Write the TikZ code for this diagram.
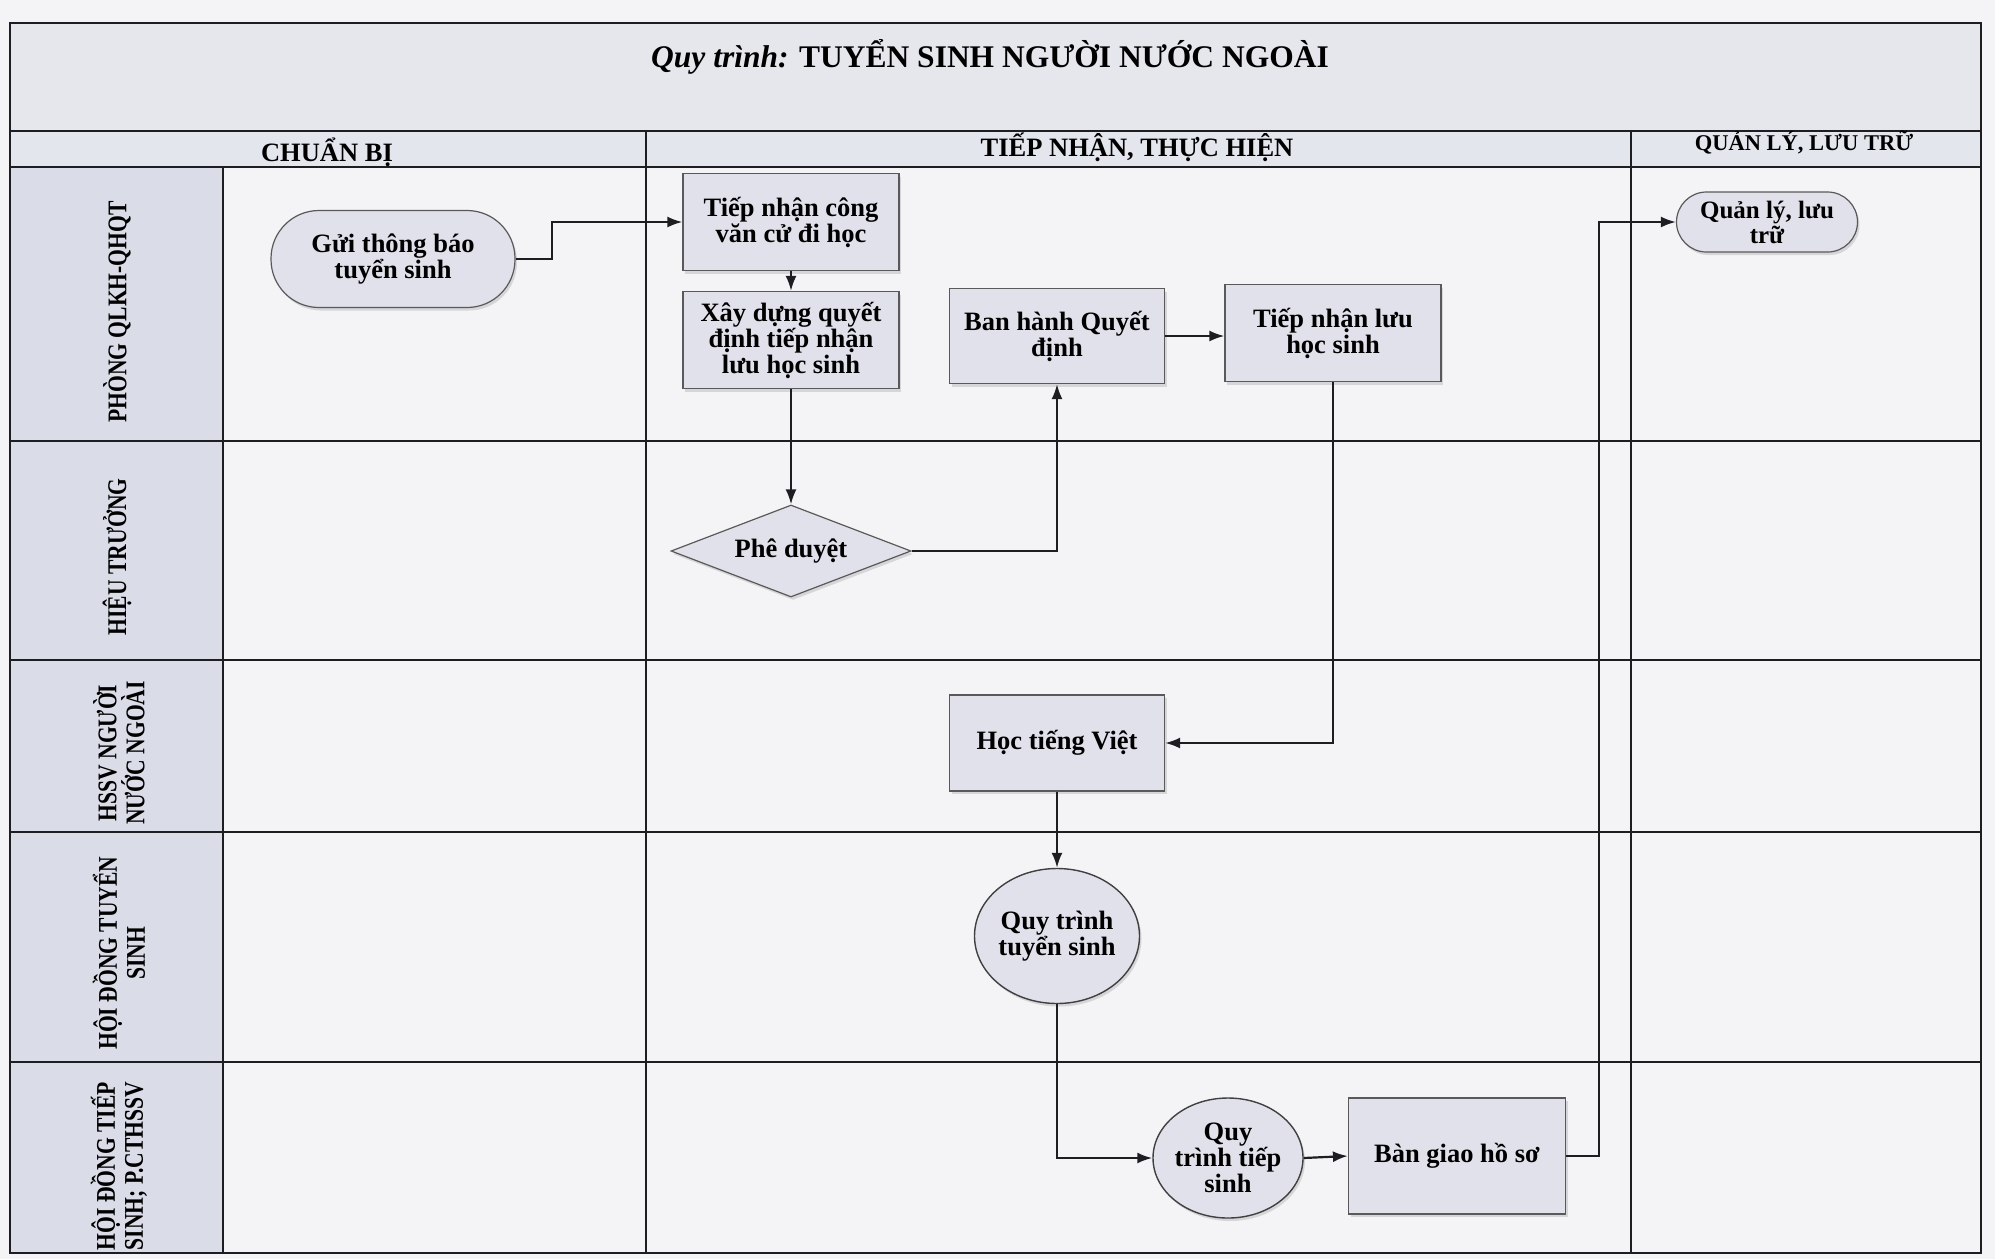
\documentclass[tikz,border=0pt]{standalone}
\usepackage{fontspec}
\setmainfont{Liberation Serif}
\newfontfamily\lanefont[FakeStretch=0.8]{Liberation Serif}
\usetikzlibrary{arrows.meta,shapes.geometric,shadows}
\definecolor{bgcol}{HTML}{F4F4F7}
\definecolor{titlefill}{HTML}{E5E7ED}
\definecolor{headfill}{HTML}{E4E6EE}
\definecolor{lanefill}{HTML}{DADCE7}
\definecolor{nodefill}{HTML}{E1E1EB}
\definecolor{linecol}{HTML}{1E1E22}
\begin{document}
\begin{tikzpicture}[x=1pt,y=-1pt,
  frame/.style={draw=linecol,line width=2pt},
  shad/.style={drop shadow={opacity=0.25,shadow xshift=2pt,shadow yshift=-3pt}},
  proc/.style={draw=black!65,line width=1.2pt,fill=nodefill,shad,minimum width=216pt,minimum height=97pt,inner sep=0pt,align=center,font=\bfseries\fontsize{26.5}{26}\selectfont},
  term/.style={proc,rounded corners=48pt,minimum width=244pt},
  decis/.style={diamond,draw=black!65,line width=1.2pt,fill=nodefill,shad,aspect=2.6,minimum width=240pt,minimum height=92pt,inner sep=0pt,align=center,font=\bfseries\fontsize{26.5}{26}\selectfont},
  circ/.style={ellipse,draw=black!75,line width=1.4pt,fill=nodefill,shad,inner sep=0pt},
  ntext/.style={align=center,font=\bfseries\fontsize{26.5}{26}\selectfont},
  head/.style={font=\bfseries\fontsize{26.5}{28}\selectfont},
  lane/.style={rotate=90,align=center,font=\lanefont\bfseries\fontsize{27}{28}\selectfont},
  conn/.style={draw=linecol,line width=2.2pt,-{Latex[length=15pt,width=11pt]}}]
\path[use as bounding box,fill=bgcol] (0,0) rectangle (1995,1259);
% bands
\fill[titlefill] (10,23) rectangle (1981,131);
\fill[headfill] (10,131) rectangle (1981,167);
\fill[lanefill] (10,167) rectangle (223,1253);
% grid
\draw[frame] (10,23) rectangle (1981,1253);
\draw[frame] (10,131) -- (1981,131);
\draw[frame] (10,167) -- (1981,167);
\draw[frame] (223,167) -- (223,1253);
\draw[frame] (646,131) -- (646,1253);
\draw[frame] (1631,131) -- (1631,1253);
\foreach \yy in {441,660,832,1062} \draw[frame] (10,\yy) -- (1981,\yy);
% title and headers
\node[font=\bfseries\fontsize{31.5}{33}\selectfont] (title) at (990,57) {\textit{Quy trình:} TUYỂN SINH NGƯỜI NƯỚC NGOÀI};
\node[head] (h1) at (327,152) {CHUẨN BỊ};
\node[head] (h2) at (1137,147) {TIẾP NHẬN, THỰC HIỆN};
\node[head,font=\bfseries\fontsize{22.5}{24}\selectfont] (h3) at (1804,142) {QUẢN LÝ, LƯU TRỮ};
% lane labels
\node[lane] (l1) at (117,312) {PHÒNG QLKH-QHQT};
\node[lane] (l2) at (117,557) {HIỆU TRƯỞNG};
\node[lane] (l3) at (119,753) {HSSV NGƯỜI\\NƯỚC NGOÀI};
\node[lane] (l4) at (119,953) {HỘI ĐỒNG TUYỂN\\SINH};
\node[lane] (l5) at (119,1166) {HỘI ĐỒNG TIẾP\\SINH; P.CTHSSV};
% nodes
\node[term] (gui) at (393,259) {Gửi thông báo\\tuyển sinh};
\node[proc] (tn) at (791,222) {Tiếp nhận công\\văn cử đi học};
\node[proc] (xd) at (791,340) {Xây dựng quyết\\định tiếp nhận\\lưu học sinh};
\node[proc,minimum width=215pt,minimum height=95pt] (bh) at (1057,336) {Ban hành Quyết\\định};
\node[proc] (tnl) at (1333,333) {Tiếp nhận lưu\\học sinh};
\node[decis] (pd) at (791,551) {Phê duyệt};
\node[proc,minimum width=215pt,minimum height=96pt] (htv) at (1057,743) {Học tiếng Việt};
\node[circ,minimum width=165pt,minimum height=135pt] (qts) at (1057,936) {};
\node[ntext] (qtsT) at (qts) {Quy trình\\tuyển sinh};
\node[circ,minimum width=150pt,minimum height=120pt] (qtt) at (1228,1158) {};
\node[ntext] (qttT) at (qtt) {Quy\\trình tiếp\\sinh};
\node[proc,minimum width=217pt,minimum height=116pt] (bg) at (1457,1156) {Bàn giao hồ sơ};
\node[term,rounded corners=30pt,minimum width=181pt,minimum height=60pt,font=\bfseries\fontsize{25}{25}\selectfont] (ql) at (1767,222) {Quản lý, lưu\\trữ};
% connectors
\draw[conn] (gui.east) -- ++(36,0) |- (tn.west);
\draw[conn] (tn.south) -- (xd.north);
\draw[conn] (xd.south) -- (pd.north);
\draw[conn] (pd.east) -| (bh.south);
\draw[conn] (bh.east) -- (bh.east -| tnl.west);
\draw[conn] (tnl.south) |- (htv.east);
\draw[conn] (htv.south) -- (qts.north);
\draw[conn] (qts.south) |- (qtt.west);
\draw[conn] (qtt.east) -- (bg.west);
\coordinate (bgturn) at (1599,1156);
\draw[conn] (bg.east) -- (bgturn) |- (ql.west);
\end{tikzpicture}
\end{document}
